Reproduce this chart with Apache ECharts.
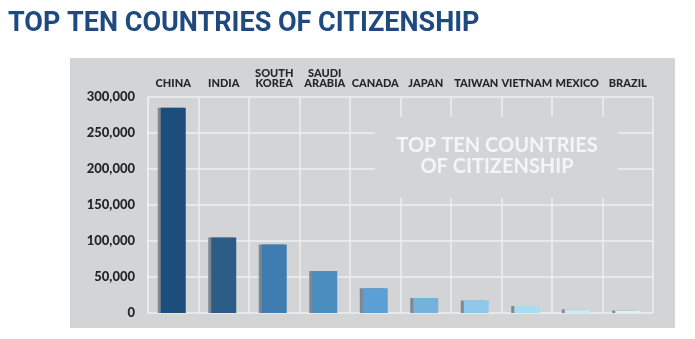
<!DOCTYPE html>
<html>
<head>
<meta charset="utf-8">
<script src="https://cdn.jsdelivr.net/npm/echarts@6/dist/echarts.min.js"></script>
<style>
html,body{margin:0;padding:0;background:#fff;}
#chart{width:695px;height:339px;}
</style>
</head>
<body>
<div id="chart"></div>
<script>
var categories = ['CHINA', 'INDIA', 'SOUTH\nKOREA', 'SAUDI\nARABIA', 'CANADA', 'JAPAN', 'TAIWAN', 'VIETNAM', 'MEXICO', 'BRAZIL'];
var values = [285000, 104700, 95000, 58300, 34300, 20800, 17200, 9700, 5100, 3300];
var barColors = ['#1d4e7b', '#2c5d87', '#3f7db1', '#4a8dbf', '#5b9fd4', '#74b1db', '#8ec8ec', '#a7dcf2', '#c8e8f4', '#e0f0f5'];
var yTicks = [0, 50000, 100000, 150000, 200000, 250000, 300000];

var chart = echarts.init(document.getElementById('chart'), null, {renderer: 'canvas'});
var panelGray = '#d3d4d6';
var option = {
  backgroundColor: '#ffffff',
  animation: false,
  title: {
    text: 'TOP TEN COUNTRIES OF CITIZENSHIP',
    left: 3,
    top: 6,
    textStyle: {fontFamily: 'Roboto', fontWeight: 'bold', fontSize: 27, color: '#1f4a7f'}
  },
  graphic: [
    {type: 'rect', z: -10, shape: {x: 70, y: 58, width: 605, height: 270}, style: {fill: panelGray}},
    {type: 'rect', z: 5, shape: {x: 375, y: 117, width: 243, height: 81}, style: {fill: panelGray}},
    {type: 'text', z: 6, x: 0, y: 0, style: {
      text: 'TOP TEN COUNTRIES\nOF CITIZENSHIP', x: 497, y: 135, textAlign: 'center',
      fill: '#f4f5f6', fontFamily: 'Lato', fontWeight: 'bold', fontSize: 20, lineHeight: 21
    }}
  ],
  grid: {left: 148, right: 42, top: 97, bottom: 26, containLabel: false},
  xAxis: {
    type: 'category',
    position: 'top',
    data: categories,
    boundaryGap: true,
    axisLine: {show: false},
    axisTick: {show: false},
    axisLabel: {
      margin: 9, interval: 0, color: '#262626', fontFamily: 'Lato', fontWeight: 900, fontSize: 11, lineHeight: 10
    },
    splitLine: {show: true, lineStyle: {color: '#eeeff0', width: 1.5}}
  },
  yAxis: {
    type: 'value',
    min: 0, max: 300000, interval: 50000,
    axisLine: {show: true, lineStyle: {color: '#eeeff0', width: 1.5}},
    axisTick: {show: false},
    axisLabel: {
      margin: 13, color: '#262626', fontFamily: 'Lato', fontWeight: 900, fontSize: 13,
      formatter: function (v) { return yTicks.indexOf(v) >= 0 ? v.toLocaleString('en-US') : ''; }
    },
    splitLine: {show: true, lineStyle: {color: '#eeeff0', width: 1.5}}
  },
  series: [{
    type: 'bar',
    data: values.map(function (v, i) {
      return {value: v, itemStyle: {color: barColors[i]}};
    }),
    barWidth: 25,
    z: 10,
    itemStyle: {shadowColor: '#7d8893', shadowOffsetX: -3, shadowOffsetY: 0, shadowBlur: 0}
  }]
};
chart.setOption(option);
</script>
</body>
</html>
